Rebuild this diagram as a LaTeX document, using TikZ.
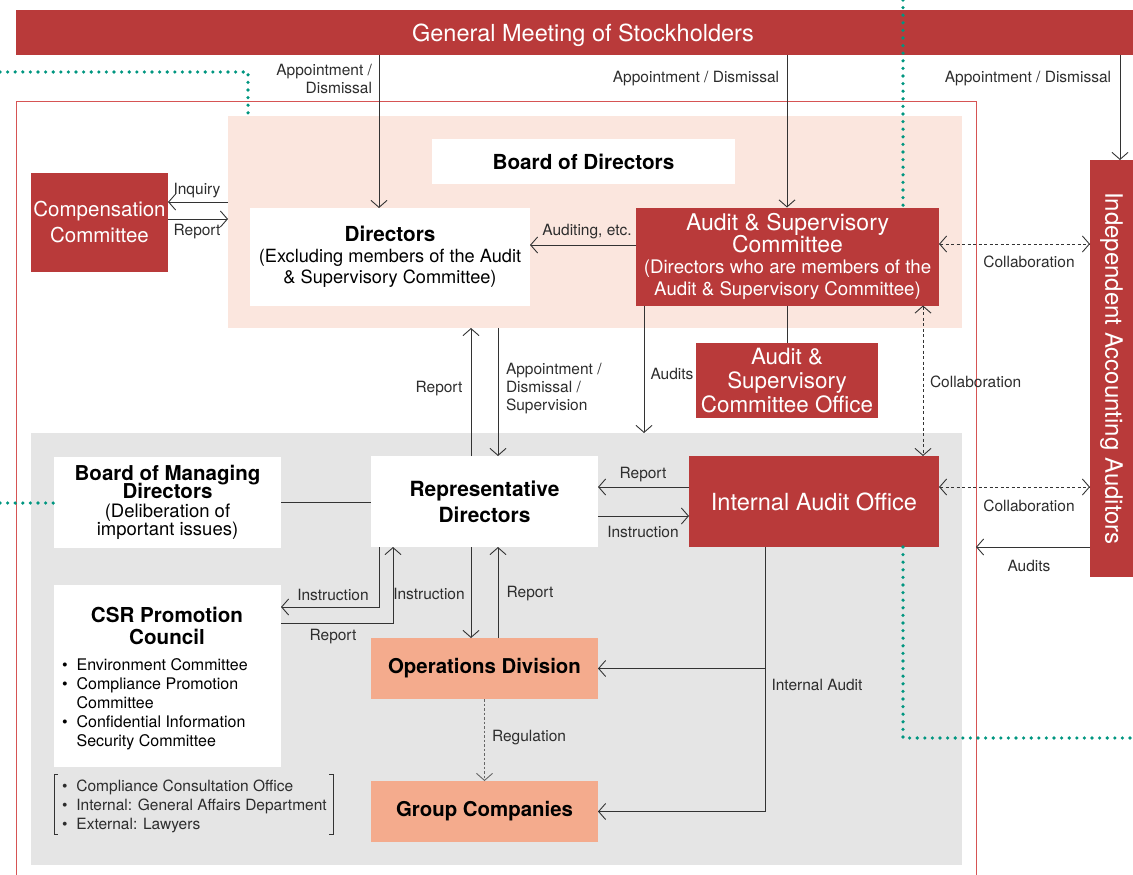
\documentclass[tikz,border=0pt]{standalone}
\usepackage{fontspec}
\setmainfont{TeX Gyre Heros}
\usetikzlibrary{arrows.meta}
\definecolor{cred}{RGB}{185,58,58}
\definecolor{cpink}{RGB}{251,230,222}
\definecolor{cgray}{RGB}{229,229,229}
\definecolor{csal}{RGB}{244,171,141}
\definecolor{cteal}{RGB}{0,150,128}
\definecolor{coutline}{RGB}{214,84,84}
\definecolor{cline}{RGB}{51,51,51}
\definecolor{ctext}{RGB}{45,45,45}
\newcommand\fsz[2]{\fontsize{#1}{#2}\selectfont\lineskiplimit=-50pt\relax}
\newcommand\lsz[2]{\fontsize{#1}{#2}\selectfont}
\begin{document}
\begin{tikzpicture}[x=1pt,y=-1pt,
  every node/.style={inner sep=0pt, outer sep=0pt},
  redbox/.style={fill=cred, text=white, align=center},
  whitebox/.style={fill=white, text=black, align=center},
  salbox/.style={fill=csal, text=black, align=center, font=\fsz{20.4}{24}\bfseries},
  lbl/.style={text=ctext, font=\fsz{15.5}{18}},
  conn/.style={draw=cline, line width=0.9pt},
  arr/.style={conn, -{Straight Barb[length=7pt,width=16pt]}},
  darr/.style={conn, dash pattern=on 3pt off 2.5pt, {Straight Barb[length=7pt,width=16pt]}-{Straight Barb[length=7pt,width=16pt]}},
  dotarr/.style={draw=gray!80!black, line width=0.9pt, dash pattern=on 2.5pt off 2pt, -{Straight Barb[length=7pt,width=16pt]}},
  tealdots/.style={draw=cteal, line width=3.6pt, line cap=round, dash pattern=on 0pt off 7.6pt},
]
\useasboundingbox (0,0) rectangle (1133,875);

% frames
\draw[draw=coutline, line width=0.9pt] (16,890) -- (16,101) -- (976,101) -- (976,890);
\node[fill=cpink, minimum width=734, minimum height=212] (bodarea) at (595,222) {};
\node[fill=cgray, minimum width=931, minimum height=432] (execarea) at (496.5,649) {};

% top bar
\node[redbox, minimum width=1134, minimum height=45, text height=17pt, text depth=0pt, font=\fsz{23.5}{26}] (gm) at (583,33) {General Meeting of Stockholders};

% board area
\node[whitebox, minimum width=303, minimum height=45, font=\fsz{20.7}{24}\bfseries] (bod) at (583.5,161.5) {Board of Directors};
\node[whitebox, minimum width=280, minimum height=98, font=\fsz{18.2}{21}] (dir) at (390,257)
  {{\fsz{20.7}{21}\bfseries Directors}\\(Excluding members of the Audit\\\& Supervisory Committee)};
\node[redbox, minimum width=303, minimum height=98, font=\fsz{18.7}{21.5}] (asc) at (787.5,256.5)
  {{\fsz{23}{21.5}Audit \& Supervisory}\\{\fsz{23}{21.5}Committee}\\(Directors who are members of the\\Audit \& Supervisory Committee)};
\node[redbox, minimum width=137, minimum height=99, font=\fsz{20.5}{26}] (comp) at (99.5,222.5) {Compensation\\Committee};
\node[redbox, minimum width=182, minimum height=75, font=\fsz{22.4}{24}] (asco) at (787,380.5) {Audit \&\\Supervisory\\Committee Office};
\node[redbox, minimum width=43, minimum height=417] (iaa) at (1111.5,368.5) {};
\node[text=white, rotate=-90, font=\fsz{24}{26}] (iaatext) at (iaa.center) {Independent Accounting Auditors};

% executive area
\node[whitebox, minimum width=227, minimum height=91, font=\fsz{20.9}{26}\bfseries] (rep) at (484.5,501.5) {Representative\\Directors};
\node[whitebox, minimum width=227, minimum height=91, font=\fsz{18.5}{18.5}] (bmd) at (167.5,502.5)
  {{\fsz{20.5}{19.5}\bfseries Board of Managing}\\{\fsz{20.5}{19.5}\bfseries Directors}\\(Deliberation of\\important issues)};
\node[redbox, minimum width=250, minimum height=91, font=\fsz{23.6}{26}] (iao) at (814,501.5) {Internal Audit Office};
\node[whitebox, minimum width=227, minimum height=182] (csr) at (167.5,676) {};
\node[font=\fsz{20.6}{22}\bfseries, align=center] (csrtitle) at (167,626) {CSR Promotion\\Council};
\node[anchor=north west, font=\lsz{16}{19}] (csrlist) at (62,657)
  {\begin{tabular}{@{}l@{\hspace{9pt}}l@{}}
   \textbullet & Environment Committee\\
   \textbullet & Compliance Promotion\\
               & Committee\\
   \textbullet & Confidential Information\\
               & Security Committee
   \end{tabular}};
\node[salbox, minimum width=227, minimum height=61] (ops) at (484.5,668.5) {Operations Division};
\node[salbox, minimum width=227, minimum height=61] (gc) at (484.5,811.5) {Group Companies};

% consultation bracket
\node[anchor=north west, text=ctext, font=\lsz{15.5}{19}] (consult) at (62,778)
  {\begin{tabular}{@{}l@{\hspace{9pt}}l@{}}
   \textbullet & Compliance Consultation Office\\
   \textbullet & Internal: General Affairs Department\\
   \textbullet & External: Lawyers
   \end{tabular}};
\draw[conn] (58,774) -- (54,774) -- (54,834) -- (58,834);
\draw[conn] (329,774) -- (333,774) -- (333,834) -- (329,834);

% connectors from General Meeting
\draw[arr] (gm.south -| 379,0) -- (dir.north -| 379,0);
\draw[arr] (gm.south -| 787,0) -- (asc.north -| 787,0);
\draw[arr] (gm.south -| 1120,0) -- (iaa.north -| 1120,0);
\node[lbl, align=right, anchor=east] (l1) at (372,79) {Appointment /\\Dismissal};
\node[lbl] (l2) at (696,79) {Appointment / Dismissal};
\node[lbl] (l3) at (1028,79) {Appointment / Dismissal};

% compensation committee
\draw[arr] (bodarea.west |- 0,202) -- (comp.east |- 0,202);
\draw[arr] (comp.east |- 0,219) -- (bodarea.west |- 0,219);
\node[lbl] (l4) at (197,191) {Inquiry};
\node[lbl] (l5) at (197,232) {Report};

% audit & supervisory committee
\draw[arr] (asc.west |- 0,245) -- (dir.east |- 0,245);
\node[lbl] (l6) at (587,232) {Auditing, etc.};
\draw[darr] (asc.east |- 0,244) -- (iaa.west |- 0,244);
\node[lbl] (l7) at (1029,262) {Collaboration};
\draw[conn] (asc.south -| 787,0) -- (asco.north -| 787,0);
\draw[arr] (asc.south -| 644,0) -- (execarea.north -| 644,0);
\node[lbl] (l8) at (672,374) {Audits};
\draw[darr] (asc.south -| 923,0) -- (iao.north -| 923,0);
\node[lbl, anchor=west] (l9) at (930,382) {Collaboration};

% board <-> representative directors
\draw[arr] (rep.north -| 471,0) -- (bodarea.south -| 471,0);
\draw[arr] (bodarea.south -| 498,0) -- (rep.north -| 498,0);
\node[lbl] (l10) at (439,389) {Report};
\node[lbl, anchor=west, align=left] (l11) at (506,389) {Appointment /\\Dismissal /\\Supervision};

% representative directors connections
\draw[conn] (bmd.east |- 0,502) -- (rep.west |- 0,502);
\draw[arr] (iao.west |- 0,487) -- (rep.east |- 0,487);
\draw[arr] (rep.east |- 0,516) -- (iao.west |- 0,516);
\node[lbl] (l12) at (643,475) {Report};
\node[lbl] (l13) at (643,532) {Instruction};
\draw[darr] (iao.east |- 0,487) -- (iaa.west |- 0,487);
\node[lbl] (l14) at (1029,506) {Collaboration};
\coordinate (auditsend) at (976,547);
\draw[arr] (iaa.west |- 0,547) -- (auditsend);
\node[lbl] (l15) at (1029,566) {Audits};

\draw[arr] (rep.south -| 471,0) -- (ops.north -| 471,0);
\draw[arr] (ops.north -| 498,0) -- (rep.south -| 498,0);
\node[lbl] (l16) at (429,594) {Instruction};
\node[lbl] (l17) at (530,594) {Report};

\draw[arr] (rep.south -| 379,0) |- (csr.east |- 0,607);
\draw[arr] (csr.east |- 0,623) -| (rep.south -| 393,0);
\node[lbl] (l18) at (333,595) {Instruction};
\node[lbl] (l19) at (333,637) {Report};

\draw[dotarr] (ops.south) -- (gc.north);
\node[lbl] (l20) at (529,738) {Regulation};

\draw[arr] (iao.south -| 765,0) |- (gc.east);
\draw[arr] (ops.east -| 765,0) -- (ops.east);
\node[lbl] (l21) at (817,685) {Internal Audit};

% teal dotted lines
\draw[tealdots] (0,72) -- (248,72) -- (bodarea.north -| 248,0);
\draw[tealdots] (903,0) -- (asc.north -| 903,0);
\draw[tealdots] (0,503) -- (bmd.west |- 0,503);
\draw[tealdots] (iao.south -| 903,0) -- (903,738) -- (1133,738);
\end{tikzpicture}
\end{document}
